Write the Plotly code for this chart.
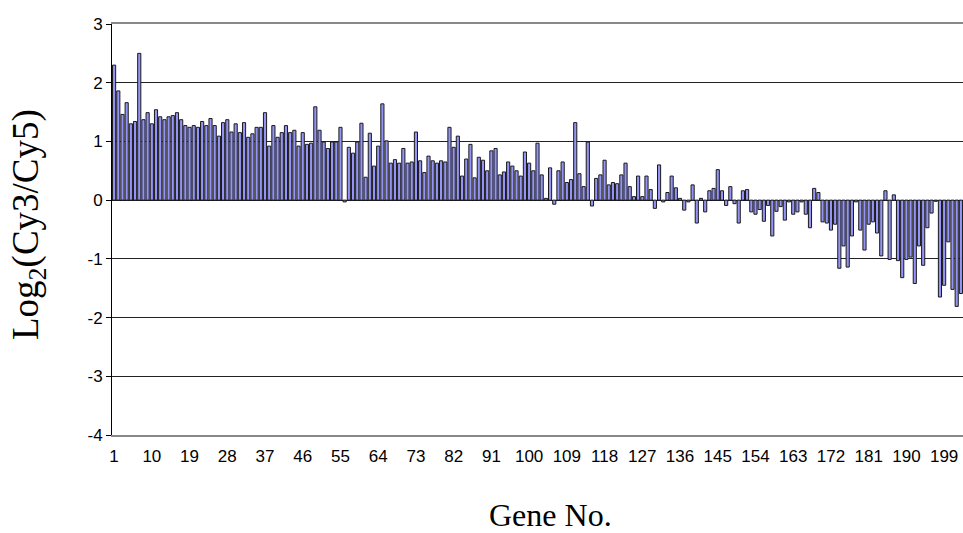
import plotly.graph_objects as go

values = [
    2.30, 1.86, 1.46, 1.66, 1.30, 1.34, 2.50, 1.37, 1.49, 1.30, 1.54, 1.42, 1.37, 1.42, 1.44, 1.49, 1.37, 1.27, 1.24, 1.27, 1.24, 1.34, 1.27, 1.39, 1.27,
    1.09, 1.32, 1.37, 1.16, 1.30, 1.15, 1.32, 1.07, 1.13, 1.24, 1.24, 1.49, 0.92, 1.27, 1.07, 1.15, 1.27, 1.15, 1.19, 0.92, 1.15, 0.95, 0.97, 1.59, 1.19,
    0.99, 0.88, 0.99, 0.99, 1.24, -0.03, 0.90, 0.80, 0.99, 1.31, 0.39, 1.14, 0.58, 0.92, 1.64, 1.01, 0.63, 0.69, 0.63, 0.88, 0.63, 0.65, 1.16, 0.67, 0.47,
    0.75, 0.67, 0.63, 0.67, 0.65, 1.24, 0.90, 1.09, 0.41, 0.70, 0.95, 0.38, 0.73, 0.68, 0.50, 0.84, 0.88, 0.43, 0.48, 0.65, 0.58, 0.50, 0.41, 0.82, 0.63, 0.50,
    0.97, 0.43, 0.03, 0.55, -0.07, 0.50, 0.65, 0.30, 0.35, 1.32, 0.45, 0.23, 0.99, -0.10, 0.37, 0.43, 0.68, 0.26, 0.30, 0.28, 0.43, 0.63, 0.23, 0.06,
    0.41, 0.06, 0.41, 0.18, -0.14, 0.60, -0.03, 0.13, 0.41, 0.21, 0.03, -0.17, -0.03, 0.26, -0.39, 0.03, -0.20, 0.16, 0.20, 0.52, 0.16, -0.09, 0.23, -0.06, -0.39, 0.16,
    0.18, -0.20, -0.24, -0.16, -0.36, -0.09, -0.61, -0.19, -0.11, -0.34, -0.03, -0.24, -0.20, -0.03, -0.24, -0.47, 0.20, 0.13, -0.37, -0.39, -0.51, -0.41, -1.16, -0.78, -1.14,
    -0.61, -0.03, -0.51, -0.85, -0.41, -0.37, -0.56, -0.95, 0.16, -1.01, 0.09, -1.03, -1.32, -1.01, -0.97, -1.42, -0.78, -1.11, -0.47, -0.22, -0.02, -1.65, -1.45, -0.71, -1.52, -1.81, -1.59,
]
genes = list(range(1, len(values) + 1))
tick_vals = list(range(1, 200, 9))
y_ticks = [3, 2, 1, 0, -1, -2, -3, -4]

fig = go.Figure()
fig.add_trace(go.Bar(
    x=genes, y=values,
    marker=dict(color="#9494f4", line=dict(color="#1a1a1a", width=1)),
    showlegend=False,
))

fig.update_layout(
    width=963, height=533,
    margin=dict(l=112, r=0, t=24, b=98, autoexpand=False),
    paper_bgcolor="white", plot_bgcolor="white",
    bargap=0.25,
    font=dict(family="Liberation Sans, Arial", size=17, color="black"),
    xaxis=dict(
        automargin=False,
        range=[0.5, len(values) + 0.5],
        tickmode="array", tickvals=tick_vals, ticktext=[str(v) for v in tick_vals],
        showgrid=False, zeroline=False,
        showline=True, linecolor="#888888", linewidth=2, mirror=True,
        ticks="", ticklabelstandoff=5,
        tickfont=dict(family="Liberation Sans, Arial", size=17, color="black"),
    ),
    yaxis=dict(
        automargin=False,
        range=[-4, 3],
        tickmode="array", tickvals=y_ticks, ticktext=[str(v) for v in y_ticks],
        showgrid=True, gridcolor="#222222", gridwidth=1,
        zeroline=True, zerolinecolor="#111111", zerolinewidth=1,
        showline=True, linecolor="black", linewidth=1,
        ticks="outside", ticklen=5, tickcolor="black",
        tickfont=dict(family="Liberation Sans, Arial", size=17, color="black"),
    ),
    annotations=[
        dict(text="Log<sub>2</sub>(Cy3/Cy5)", xref="paper", yref="paper",
             x=-0.0975, y=0.511, xanchor="center", yanchor="middle",
             textangle=-90, showarrow=False,
             font=dict(family="Liberation Serif, Times New Roman", size=37, color="black")),
        dict(text="Gene No.", xref="paper", yref="paper",
             x=0.5147, y=-0.195, xanchor="center", yanchor="middle",
             showarrow=False,
             font=dict(family="Liberation Serif, Times New Roman", size=32, color="black")),
    ],
)

fig.write_html(
    "out.html",
    config={"displayModeBar": False},
    post_script="document.body.style.margin='0';document.body.style.overflow='hidden';",
)
